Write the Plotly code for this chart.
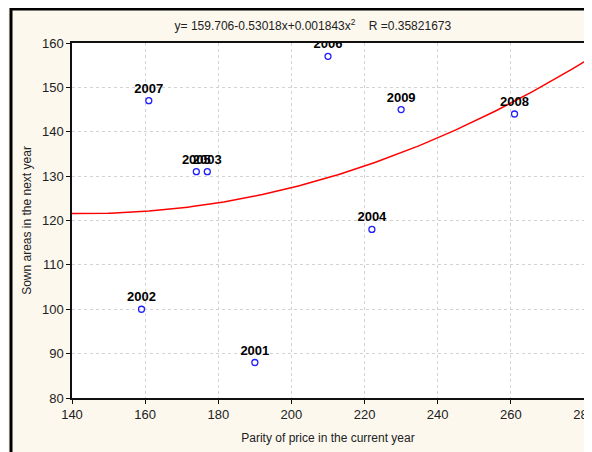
import numpy as np
import plotly.graph_objects as go

# observations: parity of price (x), sown area next year (y), labels
years = ["2001", "2002", "2003", "2004", "2005", "2006", "2007", "2008", "2009"]
parity = [190, 159, 177, 222, 174, 210, 161, 261, 230]
sown_area = [88, 100, 131, 118, 131, 157, 147, 144, 145]

# quadratic fit shown in the header: y = a + b*x + c*x^2
fit_coef = [159.706, -0.53018, 0.001843]
fit_r = 0.35821673

x_ticks = [140, 160, 180, 200, 220, 240, 260, 280]
y_ticks = [80, 90, 100, 110, 120, 130, 140, 150, 160]

# the page body adds an 8px offset, margins compensate for it
W, H = 592, 452
ML, MR, MT, MB = 64, 16, 35, 62
PW, PH = W - ML - MR, H - MT - MB


def px(x):
    return (x - ML) / PW


def py(y):
    return 1 - (y - MT) / PH


fit_x = np.linspace(x_ticks[0], x_ticks[-1], 200)
fit_y = fit_coef[0] + fit_coef[1] * fit_x + fit_coef[2] * fit_x ** 2

fig = go.Figure()

fig.add_trace(go.Scatter(
    x=fit_x, y=fit_y, mode="lines",
    line={"color": "#ff0000", "width": 1.5},
    hoverinfo="skip", showlegend=False,
))

fig.add_trace(go.Scatter(
    x=parity, y=sown_area, mode="markers+text",
    marker={"symbol": "circle-open", "size": 6, "color": "#1f1fff", "line": {"width": 1.3}},
    text=years, textposition="top center",
    textfont={"family": "Liberation Sans, Arial", "size": 13, "color": "black", "weight": "bold"},
    showlegend=False,
))

title = (f"y= {fit_coef[0]}-{abs(fit_coef[1])}x+{fit_coef[2]}x<sup>2</sup>"
         f"    R ={fit_r}")

axis_common = dict(
    showline=True, linecolor="#101010", linewidth=1.5, mirror=True,
    showgrid=True, gridcolor="#d2d2d2", griddash="dot", gridwidth=1,
    ticks="outside", ticklen=4, tickcolor="#101010",
    tickfont={"family": "Liberation Sans, Arial", "size": 13, "color": "#222"},
    zeroline=False, automargin=False, ticklabeloverflow="allow",
)

fig.update_layout(
    width=W, height=H,
    margin={"l": ML, "r": MR, "t": MT, "b": MB},
    paper_bgcolor="#fcf8ee", plot_bgcolor="white",
    font={"family": "Liberation Sans, Arial", "color": "#222"},
    title={"text": title, "x": 0.515, "xanchor": "center", "y": 1 - 18 / H,
           "yanchor": "middle", "font": {"size": 12}},
    xaxis=dict(axis_common, range=[x_ticks[0], x_ticks[-1]], tickvals=x_ticks,
               title={"text": "Parity of price in the current year", "font": {"size": 12},
                      "standoff": 12}),
    yaxis=dict(axis_common, range=[y_ticks[0], y_ticks[-1]], tickvals=y_ticks,
               title={"text": "Sown areas in the next year", "font": {"size": 12},
                      "standoff": 8}),
    shapes=[
        # outer frame (cut at right and bottom)
        dict(type="line", xref="paper", yref="paper", x0=px(2), x1=px(W + 10),
             y0=py(1), y1=py(1), line={"color": "black", "width": 3}, layer="above"),
        dict(type="line", xref="paper", yref="paper", x0=px(3), x1=px(3),
             y0=py(0), y1=py(H + 10), line={"color": "black", "width": 3}, layer="above"),
    ],
)

fig.write_html("out.html")
